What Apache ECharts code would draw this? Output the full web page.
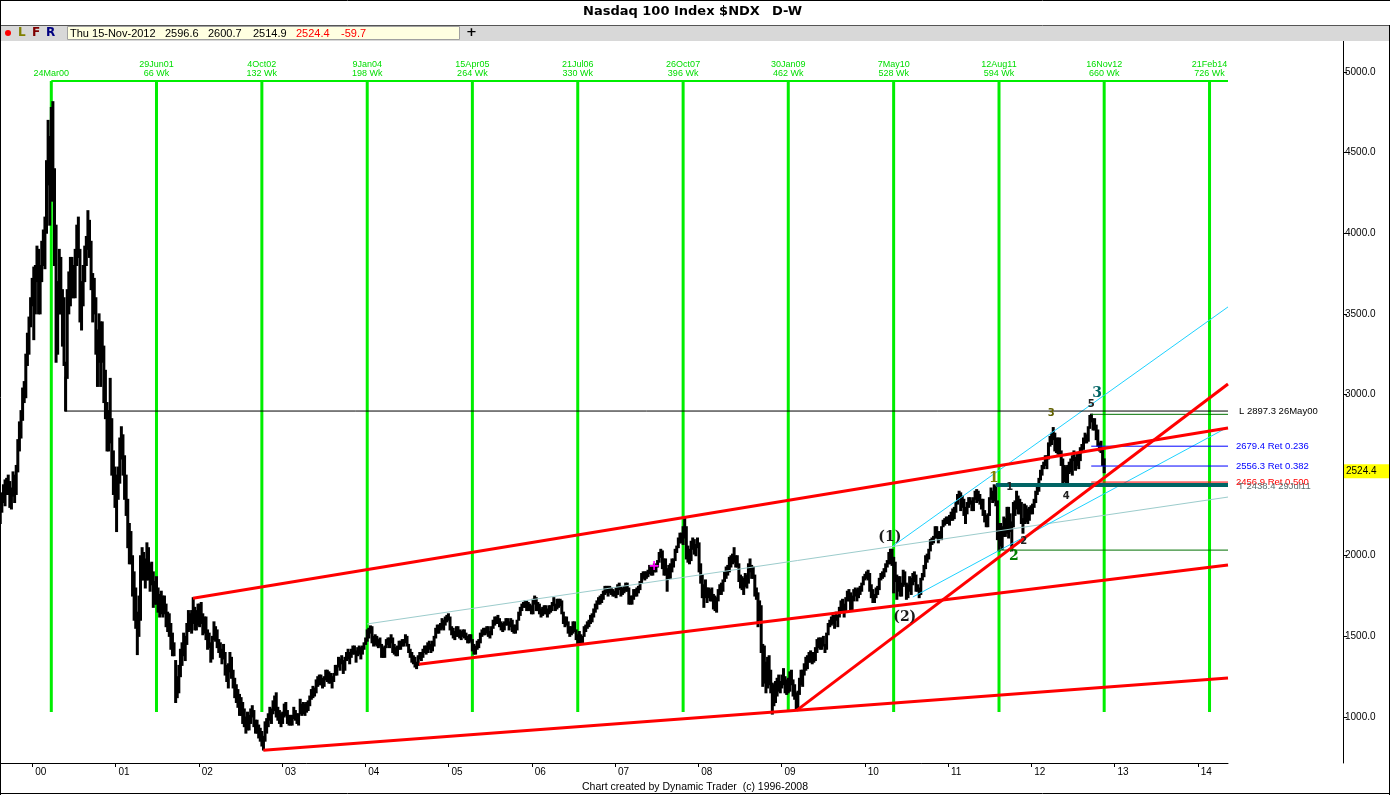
<!DOCTYPE html>
<html><head><meta charset="utf-8">
<script src="https://cdn.jsdelivr.net/npm/echarts@6/dist/echarts.min.js"></script>
<style>html,body{margin:0;padding:0;background:#fff}#c{width:1390px;height:795px}</style>
</head><body><div id="c"></div>
<script>
// ---------- DATA: weekly [low, high] of Nasdaq 100 ($NDX), weeks ending Fri from 13-Aug-1999 ----------
const firstWeek = '1999-08-13';
const w1999 = [[2200,2330],[2270,2390],[2330,2440],[2310,2470],[2380,2480],[2380,2500],[2300,2460],[2290,2420],[2370,2520],[2330,2500],[2380,2560],[2520,2720],[2650,2830],[2730,2900],[2840,3040],[2950,3080],[2980,3250],[3180,3380],[3250,3480],[3420,3600],[3550,3720]];
const w2000 = [[3340,3790],[3500,3800],[3700,3920],[3500,3900],
[3500,3800],[3700,3950],[3800,4020],[3780,4100],
[4000,4450],[4300,4700],[4050,4600],[4200,4780],[4200,4816],
[3800,4400],[3200,4050],[3250,3700],[3500,3900],
[3500,3850],[3300,3650],[3180,3600],[2897,3200],
[3100,3650],[3500,3760],[3550,3850],[3600,3850],[3600,3800],
[3600,3900],[3800,4050],[3850,4100],[3450,3900],
[3400,3700],[3550,3800],[3700,3920],[3800,3980],
[3900,4140],[3850,4080],[3650,3950],[3450,3750],[3500,3720],
[3250,3600],[3050,3400],[3200,3500],[3050,3450],
[3200,3450],[2950,3300],[2850,3150],[2650,2950],
[2650,2900],[2700,3100],[2500,2850],[2380,2650],[2300,2550]];
const w2001 = [[2150,2500],[2350,2550],[2450,2730],[2600,2800],
[2500,2750],[2350,2620],[2250,2500],[2050,2350],
[1950,2200],[1950,2150],[1750,2000],[1600,1900],[1550,1800],
[1387,1650],[1500,1750],[1600,2000],[1850,2050],
[1850,2020],[1800,1980],[1850,2080],[1850,2050],
[1780,1950],[1820,1960],[1680,1900],[1700,1840],[1700,1870],
[1650,1800],[1620,1760],[1640,1780],[1620,1750],
[1640,1750],[1560,1700],[1530,1650],[1500,1640],[1420,1580],
[1380,1520],[1380,1460],[1090,1350],[1120,1250],
[1150,1320],[1250,1420],[1320,1460],[1380,1520],
[1350,1500],[1450,1580],[1530,1660],[1540,1640],[1520,1660],
[1580,1740],[1540,1680],[1540,1660],[1570,1700]];
const w2002 = [[1560,1700],[1580,1710],[1510,1640],[1520,1620],
[1480,1620],[1420,1540],[1430,1520],[1340,1460],
[1360,1500],[1480,1590],[1470,1560],[1430,1540],[1400,1480],
[1370,1460],[1330,1420],[1360,1450],[1260,1400],
[1220,1320],[1180,1330],[1280,1400],[1240,1370],[1180,1290],
[1120,1240],[1090,1200],[1060,1170],[1010,1140],
[1010,1120],[960,1090],[940,1050],[900,1000],
[920,1030],[920,1010],[960,1050],[1000,1070],[940,1040],
[900,980],[900,980],[870,950],[850,930],
[820,910],[795,880],[850,970],[900,990],
[940,1020],[980,1060],[960,1050],[1020,1100],[1040,1130],
[1000,1150],[980,1060],[960,1040],[940,1020]];
const w2003 = [[960,1030],[1000,1080],[1010,1090],[960,1040],[950,1010],
[950,1010],[950,1010],[990,1060],[980,1040],
[960,1020],[950,1020],[1020,1110],[1010,1080],
[1020,1090],[1010,1080],[1030,1090],[1040,1100],
[1070,1130],[1110,1170],[1120,1190],[1130,1180],[1150,1230],
[1190,1250],[1200,1260],[1200,1260],[1180,1240],
[1190,1250],[1230,1290],[1220,1290],[1210,1280],
[1210,1270],[1180,1250],[1220,1270],[1260,1320],[1260,1320],
[1310,1370],[1290,1360],[1330,1380],[1270,1350],
[1290,1370],[1350,1400],[1360,1420],[1330,1400],[1370,1420],
[1390,1440],[1390,1440],[1340,1410],[1380,1430],
[1390,1440],[1360,1430],[1390,1440],[1420,1460]];
const w2004 = [[1450,1490],[1470,1540],[1490,1550],[1520,1565],[1460,1560],
[1440,1500],[1450,1510],[1440,1500],[1430,1480],
[1440,1490],[1370,1450],[1370,1430],[1370,1440],
[1430,1480],[1450,1490],[1430,1490],[1460,1510],[1400,1490],
[1390,1450],[1380,1430],[1380,1440],[1420,1470],
[1420,1470],[1440,1480],[1440,1480],[1460,1510],
[1440,1500],[1400,1450],[1370,1420],[1340,1400],[1330,1380],
[1310,1370],[1300,1340],[1320,1380],[1360,1400],
[1350,1400],[1370,1420],[1400,1440],[1390,1440],
[1400,1460],[1420,1470],[1400,1450],[1410,1470],[1440,1500],
[1490,1550],[1520,1570],[1520,1570],[1540,1580],
[1550,1610],[1540,1600],[1570,1620],[1590,1630],[1600,1640]];
const w2005 = [[1540,1620],[1510,1560],[1490,1550],[1480,1530],
[1500,1560],[1500,1560],[1490,1540],[1480,1530],
[1500,1540],[1490,1540],[1480,1520],[1460,1500],
[1460,1510],[1470,1510],[1410,1480],[1390,1450],[1390,1440],
[1420,1470],[1430,1480],[1460,1520],[1500,1540],
[1510,1550],[1510,1550],[1520,1560],[1500,1560],
[1490,1530],[1510,1560],[1550,1600],[1570,1620],[1580,1620],
[1580,1630],[1560,1610],[1540,1590],[1530,1580],
[1540,1590],[1570,1610],[1570,1610],[1540,1590],[1560,1610],
[1530,1600],[1520,1570],[1520,1570],[1540,1600],
[1600,1650],[1630,1680],[1660,1700],[1680,1710],
[1680,1720],[1660,1720],[1660,1710],[1660,1700],[1640,1690]];
const w2006 = [[1640,1730],[1700,1750],[1660,1740],[1660,1710],
[1640,1700],[1620,1670],[1630,1680],[1640,1690],
[1640,1690],[1620,1670],[1640,1690],[1650,1690],[1660,1710],
[1690,1740],[1660,1700],[1670,1730],[1680,1730],
[1690,1730],[1640,1720],[1580,1650],[1560,1620],
[1570,1620],[1520,1590],[1500,1560],[1510,1560],[1520,1590],
[1530,1590],[1480,1540],[1450,1510],[1460,1530],
[1460,1510],[1460,1500],[1500,1560],[1530,1570],
[1550,1590],[1560,1600],[1580,1630],[1590,1640],[1620,1670],
[1650,1700],[1670,1720],[1700,1740],[1700,1750],
[1710,1760],[1730,1780],[1760,1810],[1770,1810],
[1750,1810],[1770,1810],[1760,1800],[1750,1790],[1750,1780]];
const w2007 = [[1740,1800],[1760,1820],[1790,1830],[1750,1810],
[1760,1800],[1770,1810],[1780,1830],[1780,1830],
[1700,1800],[1700,1750],[1700,1750],[1730,1790],[1750,1790],
[1750,1800],[1770,1810],[1790,1840],[1830,1890],
[1860,1900],[1850,1900],[1860,1900],[1870,1910],
[1890,1940],[1880,1940],[1880,1940],[1900,1950],[1900,1940],
[1930,1970],[1960,2020],[1990,2040],[1920,2030],
[1880,1980],[1880,1980],[1780,1920],[1860,1940],[1860,1950],
[1900,1980],[1930,1980],[1970,2040],[2020,2060],
[2050,2110],[2080,2140],[2080,2140],[2070,2180],
[2110,2240],[1980,2180],[1960,2060],[1950,2040],[1970,2090],
[2040,2110],[2010,2100],[2000,2070],[2050,2110]];
const w2008 = [[1900,2080],[1830,1950],[1740,1880],[1680,1820],
[1740,1850],[1710,1800],[1740,1800],[1720,1790],[1720,1800],
[1670,1760],[1660,1750],[1650,1740],[1720,1790],
[1760,1820],[1760,1830],[1780,1850],[1840,1900],
[1860,1930],[1880,1940],[1900,1990],[1930,2000],[1950,2010],
[1960,2050],[1930,2000],[1930,2000],[1840,1950],
[1800,1880],[1790,1870],[1760,1860],[1810,1890],
[1800,1880],[1830,1950],[1900,1980],[1860,1940],[1860,1930],
[1750,1880],[1730,1800],[1560,1770],[1600,1720],
[1400,1690],[1190,1450],[1210,1440],[1150,1340],[1180,1370],
[1200,1380],[1150,1290],[1018,1210],[1070,1200],
[1090,1220],[1130,1240],[1160,1260],[1150,1220]];
const w2009 = [[1180,1260],[1200,1300],[1150,1250],[1140,1230],[1150,1240],
[1160,1280],[1200,1290],[1130,1230],[1110,1200],
[1050,1150],[1040,1160],[1140,1240],[1200,1290],
[1190,1290],[1260,1330],[1290,1370],[1300,1380],
[1340,1400],[1340,1410],[1330,1400],[1340,1400],[1350,1430],
[1400,1480],[1430,1490],[1420,1490],[1420,1490],
[1440,1500],[1400,1450],[1420,1520],[1510,1580],[1560,1600],
[1570,1620],[1580,1630],[1550,1630],[1600,1650],
[1560,1630],[1620,1680],[1660,1720],[1660,1730],
[1620,1700],[1660,1740],[1720,1780],[1720,1790],[1660,1770],
[1660,1750],[1720,1790],[1750,1800],[1720,1790],
[1740,1800],[1760,1810],[1780,1830],[1820,1870]];
const w2010 = [[1850,1885],[1860,1900],[1850,1910],[1780,1890],[1740,1820],
[1710,1790],[1710,1760],[1740,1800],[1760,1810],
[1790,1860],[1850,1890],[1860,1900],[1870,1920],
[1900,1950],[1930,1970],[1950,2020],[1950,2040],[1940,2040],
[1770,1990],[1840,1960],[1730,1880],[1780,1870],
[1750,1870],[1750,1830],[1810,1910],[1820,1900],
[1730,1830],[1740,1820],[1780,1870],[1760,1860],[1820,1890],
[1840,1900],[1780,1880],[1780,1820],[1740,1800],
[1760,1860],[1850,1890],[1870,1940],[1920,2000],
[1960,2010],[1980,2040],[2030,2100],[2070,2110],[2080,2120],
[2110,2180],[2110,2180],[2080,2150],[2100,2150],
[2100,2180],[2180,2220],[2190,2230],[2200,2240],[2200,2240]];
const w2011 = [[2190,2250],[2220,2270],[2220,2290],[2230,2300],
[2270,2330],[2320,2380],[2360,2400],[2280,2390],
[2300,2370],[2250,2350],[2200,2300],[2260,2330],
[2300,2360],[2320,2360],[2280,2340],[2280,2360],[2350,2400],
[2330,2410],[2340,2400],[2320,2380],[2290,2350],
[2250,2350],[2210,2280],[2180,2250],[2180,2260],
[2250,2360],[2350,2420],[2330,2400],[2340,2440],[2310,2430],
[2100,2340],[2030,2200],[2060,2200],[2040,2180],
[2120,2240],[2120,2230],[2140,2300],[2110,2300],[2150,2260],
[2030,2210],[2180,2330],[2250,2340],[2290,2400],
[2260,2370],[2260,2350],[2200,2330],[2140,2230],
[2200,2320],[2210,2310],[2200,2290],[2220,2300],[2260,2310]];
const w2012 = [[2260,2320],[2300,2350],[2330,2400],[2380,2440],
[2400,2480],[2470,2530],[2500,2560],[2540,2580],
[2560,2620],[2540,2620],[2600,2700],[2680,2740],[2690,2760],
[2720,2795],[2650,2760],[2640,2730],[2630,2730],
[2620,2730],[2560,2650],[2450,2600],[2460,2560],
[2440,2550],[2450,2560],[2510,2580],[2520,2600],[2500,2620],
[2590,2650],[2530,2610],[2560,2640],[2540,2630],
[2590,2670],[2640,2690],[2660,2730],[2700,2760],[2700,2750],
[2710,2800],[2790,2870],[2830,2878],[2780,2850],
[2780,2850],[2720,2810],[2680,2780],[2650,2700],
[2640,2710],[2560,2670],[2514.9,2600.7]];

// time-cycle lines (66-week spacing)
const cycleDates = ['2000-03-24','2001-06-29','2002-10-04','2004-01-09','2005-04-15','2006-07-21','2007-10-26','2009-01-30','2010-05-07','2011-08-12','2012-11-16','2014-02-21'];
const cycleNames = ['24Mar00','29Jun01','4Oct02','9Jan04','15Apr05','21Jul06','26Oct07','30Jan09','7May10','12Aug11','16Nov12','21Feb14'];
const cycleWeeks = ['','66 Wk','132 Wk','198 Wk','264 Wk','330 Wk','396 Wk','462 Wk','528 Wk','594 Wk','660 Wk','726 Wk'];
const cycleRange = [1031, 4944];

// trend lines [x1(year), y1, x2(year), y2]
const redChannels = [[2001.93,1736,2014.363,2792],[2004.645,1327,2014.363,1942],[2002.775,794,2014.363,1242],[2009.182,1041,2014.363,3065]];
const cyanLines = [[2010.337,2060,2014.363,3543],[2010.577,1744,2014.363,2798]];
const paleLines = [[2004.021,1577,2014.363,2364]];
const yTicks = [1000,1500,2000,2500,3000,3500,4000,4500,5000];
const xTicks = [2000,2001,2002,2003,2004,2005,2006,2007,2008,2009,2010,2011,2012,2013,2014];

// price levels
const lowMay00 = {x:2000.393, top:3110, level:2897.3, label:'L 2897.3 26May00'};
const fibLevels = [{v:2679.4,label:'2679.4 Ret 0.236',c:'#0000ff'},{v:2556.3,label:'2556.3 Ret 0.382',c:'#0000ff'},{v:2456.9,label:'2456.9 Ret 0.500',c:'#ff0000'}];
const fibStart = 2012.72;
const topLevel = 2877, bottomLevel = 2035, bottomStart = 2011.60;
const tLevel = {v:2438.4, from:2011.575, label:'T 2438.4 29Jul11'};
const lastClose = 2524.4;
const magentaMark = [2007.468, 1936];
const waveLabels = [
  {t:'(1)',x:2010.30,y:2116,c:'#1a1a1a',f:'bold 14px "DejaVu Serif"'},
  {t:'(2)',x:2010.48,y:1620,c:'#1a1a1a',f:'bold 14px "DejaVu Serif"'},
  {t:'1',x:2011.55,y:2482,c:'#808000',f:'bold 14px "DejaVu Serif"'},
  {t:'2',x:2011.79,y:1998,c:'#008000',f:'bold 14px "DejaVu Serif"'},
  {t:'3',x:2012.79,y:3009,c:'#006464',f:'bold 14px "DejaVu Serif"'},
  {t:'3',x:2012.24,y:2885,c:'#606000',f:'bold 10px "DejaVu Sans"'},
  {t:'4',x:2012.42,y:2365,c:'#202020',f:'bold 10px "DejaVu Sans"'},
  {t:'5',x:2012.72,y:2941,c:'#202020',f:'bold 10px "DejaVu Sans"'},
  {t:'1',x:2011.74,y:2426,c:'#202020',f:'bold 10px "DejaVu Sans"'},
  {t:'2',x:2011.91,y:2090,c:'#202020',f:'bold 10px "DejaVu Sans"'}
];

// ---------- build ----------
const FONT = '"Liberation Sans", Arial, sans-serif';
const X_MIN = 1999.612, X_MAX = 2014.363, Y_MIN = 714.7, Y_MAX = 5192.2;
function decYear(ms){const d=new Date(ms);const y=d.getUTCFullYear();const s=Date.UTC(y,0,1),e=Date.UTC(y+1,0,1);return y+(ms-s)/(e-s);}
function dateYear(str){return decYear(Date.parse(str+'T12:00:00Z'));}
const weekly = [].concat(w1999,w2000,w2001,w2002,w2003,w2004,w2005,w2006,w2007,w2008,w2009,w2010,w2011,w2012);
const t0 = Date.parse(firstWeek+'T12:00:00Z');
const barData = weekly.map((b,i)=>[decYear(t0+i*7*86400000), b[0], b[1]]);
const cycleX = cycleDates.map(dateYear);

function seg(pts,color,width,z){return {type:'line',data:pts,symbol:'none',silent:true,animation:false,z:z||4,lineStyle:{color:color,width:width,cap:'butt'}};}
const series = [];
series.push({type:'custom',data:barData,z:3,animation:false,clip:true,silent:true,
  renderItem:function(params,api){const x=api.value(0);const p1=api.coord([x,api.value(2)]);const p2=api.coord([x,api.value(1)]);
    return {type:'rect',shape:{x:p1[0]-1.5,y:p1[1]-0.5,width:3,height:Math.max(2,p2[1]-p1[1]+1)},style:{fill:'#000'}};}});
cycleX.forEach(x=>series.push(seg([[x,cycleRange[0]],[x,cycleRange[1]]],'#00ee00',3,2)));
series.push(seg([[cycleX[0],cycleRange[1]],[X_MAX,cycleRange[1]]],'#00ee00',2,2));
paleLines.forEach(l=>series.push(seg([[l[0],l[1]],[l[2],l[3]]],'#9ccccc',1,4)));
cyanLines.forEach(l=>series.push(seg([[l[0],l[1]],[l[2],l[3]]],'#1ed2ff',1,4)));
series.push(seg([[lowMay00.x,lowMay00.top],[lowMay00.x,lowMay00.level],[X_MAX,lowMay00.level]],'#000',1,4));
series.push(seg([[fibStart,topLevel],[X_MAX,topLevel]],'#007000',1,4));
series.push(seg([[bottomStart,bottomLevel],[X_MAX,bottomLevel]],'#007000',1,4));
fibLevels.forEach(f=>series.push(seg([[fibStart,f.v],[X_MAX,f.v]],f.c,1,4)));
series.push(seg([[tLevel.from,tLevel.v],[X_MAX,tLevel.v]],'#006464',4,4));
redChannels.forEach(l=>series.push(seg([[l[0],l[1]],[l[2],l[3]]],'#ff0000',3,5)));

const option = {
  animation:false,
  backgroundColor:'#ffffff',
  grid:{left:0,right:162,top:41,bottom:32,containLabel:false},
  xAxis:{type:'value',min:X_MIN,max:X_MAX,position:'bottom',
    axisLine:{show:true,onZero:false,lineStyle:{color:'#000',width:1}},
    axisTick:{show:true,length:4,customValues:xTicks,lineStyle:{color:'#000'}},
    axisLabel:{show:true,customValues:xTicks,align:'left',padding:[0,0,0,3],margin:4,fontSize:10,fontFamily:FONT,color:'#000',
      formatter:v=>String(Math.round(v)%100).padStart(2,'0')},
    splitLine:{show:false}},
  yAxis:{type:'value',min:Y_MIN,max:Y_MAX,position:'right',offset:115,
    axisLine:{show:true,lineStyle:{color:'#000',width:1}},
    axisTick:{show:true,length:4,customValues:yTicks,lineStyle:{color:'#000'}},
    axisLabel:{show:true,customValues:yTicks,margin:2,fontSize:10,fontFamily:FONT,color:'#000',formatter:v=>v.toFixed(1)},
    splitLine:{show:false}},
  series:series
};
const chart = echarts.init(document.getElementById('c'));
chart.setOption(option);

// ---------- text overlays positioned through the axes ----------
const P = (x,y)=>chart.convertToPixel({gridIndex:0},[x,y]);
const g = [];
function txt(t,x,y,fill,font,align,va,z){g.push({type:'text',z:z||100,style:{text:t,x:x,y:y,fill:fill,font:font,align:align||'left',verticalAlign:va||'middle'}});}
// title & header
txt('Nasdaq 100 Index $NDX',583,12,'#000','bold 13px "DejaVu Sans"');
txt('D-W',772,12,'#000','bold 13px "DejaVu Sans"');
g.push({type:'rect',z:90,shape:{x:0,y:25,width:1390,height:16},style:{fill:'#d8d8d8',stroke:null}});
g.push({type:'line',z:91,shape:{x1:0,y1:25.5,x2:1390,y2:25.5},style:{stroke:'#555',lineWidth:1}});
g.push({type:'circle',z:92,shape:{cx:8,cy:33,r:3},style:{fill:'#ff0000'}});
txt('L',18,33,'#808000','bold 12px "DejaVu Sans"');
txt('F',32,33,'#800000','bold 12px "DejaVu Sans"');
txt('R',46,33,'#000080','bold 12px "DejaVu Sans"');
g.push({type:'rect',z:92,shape:{x:67.5,y:26.5,width:392,height:13},style:{fill:'#ffffe1',stroke:'#a0a0a0',lineWidth:1}});
const hdr = [['Thu 15-Nov-2012',70,'#000'],['2596.6',165,'#000'],['2600.7',208,'#000'],['2514.9',253,'#000'],['2524.4',296,'#ff0000'],['-59.7',341,'#ff0000']];
hdr.forEach(h=>txt(h[0],h[1],33.5,h[2],'11px '+FONT,'left','middle',95));
txt('+',466,33,'#000','bold 13px "DejaVu Sans"','left','middle',95);
// frame
g.push({type:'line',z:120,shape:{x1:0.5,y1:0,x2:0.5,y2:795},style:{stroke:'#000',lineWidth:1}});
g.push({type:'line',z:120,shape:{x1:0,y1:0.5,x2:1390,y2:0.5},style:{stroke:'#000',lineWidth:1}});
g.push({type:'line',z:120,shape:{x1:0,y1:793.5,x2:1390,y2:793.5},style:{stroke:'#000',lineWidth:1}});
g.push({type:'line',z:120,shape:{x1:1389.5,y1:25,x2:1389.5,y2:795},style:{stroke:'#000',lineWidth:1}});
// footer
txt('Chart created by Dynamic Trader  (c) 1996-2008',695,787,'#000','10.5px '+FONT,'center');
// cycle labels
cycleX.forEach((x,i)=>{const p=P(x,cycleRange[1]);
  if(cycleWeeks[i]){txt(cycleNames[i],p[0],65,'#00dd00','9px '+FONT,'center');txt(cycleWeeks[i],p[0],74,'#00dd00','9px '+FONT,'center');}
  else txt(cycleNames[i],p[0],74,'#00dd00','9px '+FONT,'center');});
const edge = P(X_MAX,Y_MAX)[0];
g.push({type:'rect',z:101,shape:{x:edge+1,y:55,width:40,height:25},style:{fill:'#fff'}});
// right-margin level labels
txt(lowMay00.label,edge+11,P(X_MAX,lowMay00.level)[1],'#000','9.5px '+FONT);
fibLevels.forEach(f=>txt(f.label,edge+8,P(X_MAX,f.v)[1],f.c,'9.5px '+FONT));
txt(tLevel.label,edge+10,P(X_MAX,tLevel.v)[1]+1,'#5a7070','9.5px '+FONT);
// last price tag on axis
const yl = P(X_MAX,lastClose)[1];
g.push({type:'rect',z:110,shape:{x:edge+116,y:yl-7,width:45,height:14},style:{fill:'#ffff00'}});
txt(lastClose.toFixed(1),edge+118,yl,'#000','10px '+FONT,'left','middle',111);
// wave labels
waveLabels.forEach(w=>{const p=P(w.x,w.y);txt(w.t,p[0],p[1],w.c,w.f,'center');});
const mp = P(magentaMark[0],magentaMark[1]);
txt('+',mp[0],mp[1],'#ff00ff','bold 14px "DejaVu Sans"','center');
chart.setOption({graphic:g});
</script>
</body></html>
